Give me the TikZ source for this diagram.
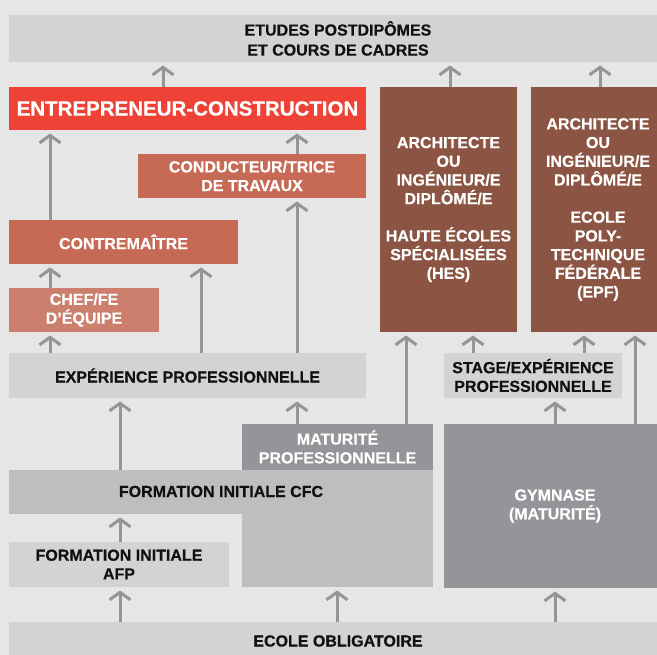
\documentclass[tikz,border=0pt]{standalone}
\usepackage{fontspec}
\setmainfont{Liberation Sans}[BoldFeatures={FakeBold=0.5}]
\usetikzlibrary{arrows.meta}
\definecolor{bg}{HTML}{E6E6E6}
\definecolor{lightbox}{HTML}{D1D3D4}
\definecolor{midbox}{HTML}{BCBEC0}
\definecolor{darkbox}{HTML}{939598}
\definecolor{arrowgray}{HTML}{939598}
\definecolor{redbox}{HTML}{EE4237}
\definecolor{rustbox}{HTML}{C66A55}
\definecolor{chefbox}{HTML}{CB7F6C}
\definecolor{brownbox}{HTML}{8B5443}
\definecolor{txt}{HTML}{111111}
\begin{document}
\begin{tikzpicture}[x=1pt,y=-1pt,
  box/.style={anchor=north west, inner sep=0pt, outer sep=0pt, align=center,
    font=\bfseries\fontsize{16}{18.7}\selectfont},
  lbl/.style={inner sep=0pt, align=center, font=\bfseries\fontsize{16}{18.7}\selectfont},
  dark/.style={text=txt},
  light/.style={text=white},
  arr/.style={draw=arrowgray, line width=3pt, shorten >=3.5pt,
    -{Straight Barb[length=7.5pt,width=21pt]}}]
\useasboundingbox (0,0) rectangle (657,655);
\fill[bg] (0,0) rectangle (657,655);

% boxes
\node[box, fill=lightbox, minimum width=648pt, minimum height=47pt] (etudes) at (9,15) {};
\node[lbl, dark, font=\bfseries\fontsize{16}{20}\selectfont] (etudes-t) at (338,38.5) {ETUDES POSTDIPÔMES\\ET COURS DE CADRES};

\node[box, fill=redbox, light, minimum width=357pt, minimum height=43pt,
  font=\bfseries\fontsize{20.5}{24}\selectfont] (entre) at (9,87) {ENTREPRENEUR-CONSTRUCTION};

\node[box, fill=brownbox, light, minimum width=137pt, minimum height=245pt] (hes) at (380,87)
  {ARCHITECTE\\OU\\INGÉNIEUR/E\\DIPLÔMÉ/E\\[18.5pt]HAUTE ÉCOLES\\SPÉCIALISÉES\\(HES)};

\node[box, fill=brownbox, minimum width=126pt, minimum height=245pt] (epf) at (531,87) {};
\node[lbl, light] (epf-t) at (598,209.5)
  {ARCHITECTE\\OU\\INGÉNIEUR/E\\DIPLÔMÉ/E\\[18.5pt]ECOLE\\POLY-\\TECHNIQUE\\FÉDÉRALE\\(EPF)};

\node[box, fill=rustbox, light, minimum width=228pt, minimum height=44pt] (cond) at (138,154)
  {CONDUCTEUR/TRICE\\DE TRAVAUX};

\node[box, fill=rustbox, light, minimum width=229pt, minimum height=44pt] (contre) at (9,220)
  {CONTREMAÎTRE};

\node[box, fill=chefbox, light, minimum width=150pt, minimum height=44pt] (chef) at (9,288)
  {CHEF/FE\\D’ÉQUIPE};

\node[box, fill=lightbox, dark, minimum width=357pt, minimum height=45pt] (exp) at (9,353)
  {EXPÉRIENCE PROFESSIONNELLE};

\node[box, fill=lightbox, dark, minimum width=178pt, minimum height=45pt] (stage) at (444,353)
  {STAGE/EXPÉRIENCE\\PROFESSIONNELLE};

\node[box, fill=darkbox, light, minimum width=191pt, minimum height=46pt] (mat) at (242,424)
  {MATURITÉ\\PROFESSIONNELLE};

\node[box, fill=midbox, minimum width=424pt, minimum height=44pt] (cfc) at (9,470) {};
\node[box, fill=midbox, minimum width=191pt, minimum height=117pt] (cfclow) at (242,470) {};
\node[lbl, dark] (cfc-t) at (221,491.5) {FORMATION INITIALE CFC};

\node[box, fill=darkbox, minimum width=213pt, minimum height=164pt] (gym) at (444,424) {};
\node[lbl, light] (gym-t) at (555,506) {GYMNASE\\(MATURITÉ)};

\node[box, fill=lightbox, dark, minimum width=220pt, minimum height=45pt] (afp) at (9,542)
  {FORMATION INITIALE\\AFP};

\node[box, fill=lightbox, minimum width=648pt, minimum height=33pt] (ecole) at (9,622) {};
\node[lbl, dark] (ecole-t) at (338,641) {ECOLE OBLIGATOIRE};

% arrow columns
\coordinate (x50) at (50,0);
\coordinate (x120) at (120,0);
\coordinate (x163) at (163,0);
\coordinate (x201) at (201,0);
\coordinate (x297) at (297,0);
\coordinate (x337) at (337,0);
\coordinate (x406) at (406,0);
\coordinate (x450) at (450,0);
\coordinate (x473) at (473,0);
\coordinate (x555) at (555,0);
\coordinate (x584) at (584,0);
\coordinate (x600) at (600,0);
\coordinate (x635) at (635,0);

% arrows
\draw[arr] (x163 |- entre.north) -- (x163 |- etudes.south);
\draw[arr] (x450 |- hes.north) -- (x450 |- etudes.south);
\draw[arr] (x600 |- epf.north) -- (x600 |- etudes.south);

\draw[arr] (x50 |- contre.north) -- (x50 |- entre.south);
\draw[arr] (x297 |- cond.north) -- (x297 |- entre.south);

\draw[arr] (x50 |- chef.north) -- (x50 |- contre.south);
\draw[arr] (x201 |- exp.north) -- (x201 |- contre.south);
\draw[arr] (x297 |- exp.north) -- (x297 |- cond.south);
\draw[arr] (x50 |- exp.north) -- (x50 |- chef.south);

\draw[arr] (x473 |- stage.north) -- (x473 |- hes.south);
\draw[arr] (x584 |- stage.north) -- (x584 |- epf.south);
\draw[arr] (x406 |- mat.north) -- (x406 |- hes.south);
\draw[arr] (x635 |- gym.north) -- (x635 |- epf.south);
\draw[arr] (x555 |- gym.north) -- (x555 |- stage.south);

\draw[arr] (x120 |- cfc.north) -- (x120 |- exp.south);
\draw[arr] (x297 |- mat.north) -- (x297 |- exp.south);

\draw[arr] (x120 |- afp.north) -- (x120 |- cfc.south);

\draw[arr] (x120 |- ecole.north) -- (x120 |- afp.south);
\draw[arr] (x337 |- ecole.north) -- (x337 |- cfclow.south);
\draw[arr] (x555 |- ecole.north) -- (x555 |- gym.south);
\end{tikzpicture}
\end{document}
